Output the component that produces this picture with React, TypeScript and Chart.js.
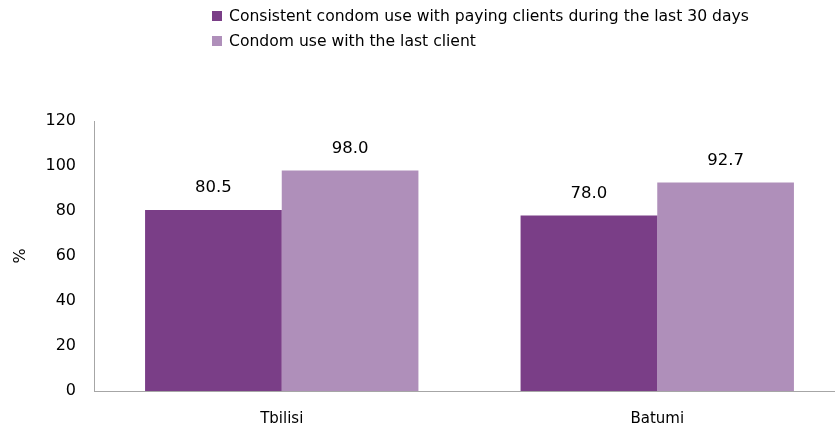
import React, { useEffect, useRef } from "react";
import { Chart, registerables } from "chart.js";

Chart.register(...registerables);

const categories = ["Tbilisi", "Batumi"];
const seriesNames = [
  "Consistent condom use with paying clients during the last 30 days",
  "Condom use with the last client",
];
const consistentUse = [80.5, 78.0];
const lastClientUse = [98.0, 92.7];
const yTicks = [0, 20, 40, 60, 80, 100, 120];

const COLORS = ["#7A3E87", "#AF8FBA"];
const FONT = "'DejaVu Sans', sans-serif";

const legendPlugin = {
  id: "customLegend",
  afterDraw(chart: any) {
    const ctx = chart.ctx;
    ctx.save();
    ctx.font = `15.6px ${FONT}`;
    ctx.textBaseline = "middle";
    ctx.textAlign = "left";
    chart.data.datasets.forEach((ds: any, i: number) => {
      const y = 16 + i * 25;
      ctx.fillStyle = ds.backgroundColor;
      ctx.fillRect(212, y - 5, 10, 10);
      ctx.fillStyle = "#000";
      ctx.fillText(ds.label, 229, y + 1);
    });
    ctx.restore();
  },
};

const labelPlugin = {
  id: "valueLabels",
  afterDatasetsDraw(chart: any) {
    const ctx = chart.ctx;
    ctx.save();
    ctx.font = `16.5px ${FONT}`;
    ctx.fillStyle = "#000";
    ctx.textAlign = "center";
    ctx.textBaseline = "middle";
    chart.data.datasets.forEach((ds: any, i: number) => {
      const meta = chart.getDatasetMeta(i);
      meta.data.forEach((bar: any, j: number) => {
        ctx.fillText(Number(ds.data[j]).toFixed(1), bar.x, bar.y - 22);
      });
    });
    ctx.restore();
  },
};

export default function App() {
  const ref = useRef<HTMLCanvasElement | null>(null);
  useEffect(() => {
    if (!ref.current) return;
    const chart = new Chart(ref.current, {
      type: "bar",
      data: {
        labels: categories,
        datasets: [
          { label: seriesNames[0], data: consistentUse, backgroundColor: COLORS[0] },
          { label: seriesNames[1], data: lastClientUse, backgroundColor: COLORS[1] },
        ],
      },
      options: {
        animation: false,
        responsive: false,
        maintainAspectRatio: false,
        layout: { padding: { top: 121, right: 0, left: 0, bottom: 0 } },
        datasets: { bar: { categoryPercentage: 0.728, barPercentage: 1 } },
        plugins: { legend: { display: false }, tooltip: { enabled: false } },
        scales: {
          x: {
            grid: { display: false, drawTicks: false },
            border: { display: true, color: "#A6A6A6", width: 1 },
            ticks: { color: "#000", font: { family: FONT, size: 15 }, padding: 19 },
            afterFit: (s: any) => { s.height = 40; },
          },
          y: {
            min: 0,
            max: 120,
            afterBuildTicks: (s: any) => { s.ticks = yTicks.map((v) => ({ value: v })); },
            grid: { display: false, drawTicks: false },
            border: { display: true, color: "#A6A6A6", width: 1 },
            ticks: { color: "#000", font: { family: FONT, size: 16 }, padding: 18 },
            title: { display: true, text: "%", color: "#000", font: { family: FONT, size: 16 }, padding: { top: 11, bottom: 0 } },
            afterFit: (s: any) => { s.width = 94; },
          },
        },
      },
      plugins: [legendPlugin, labelPlugin],
    });
    return () => chart.destroy();
  }, []);
  return (
    <div style={{ position: "fixed", left: 0, top: 0, width: 845, height: 431 }}>
      <canvas ref={ref} width={845} height={431} style={{ width: 845, height: 431 }} />
    </div>
  );
}
